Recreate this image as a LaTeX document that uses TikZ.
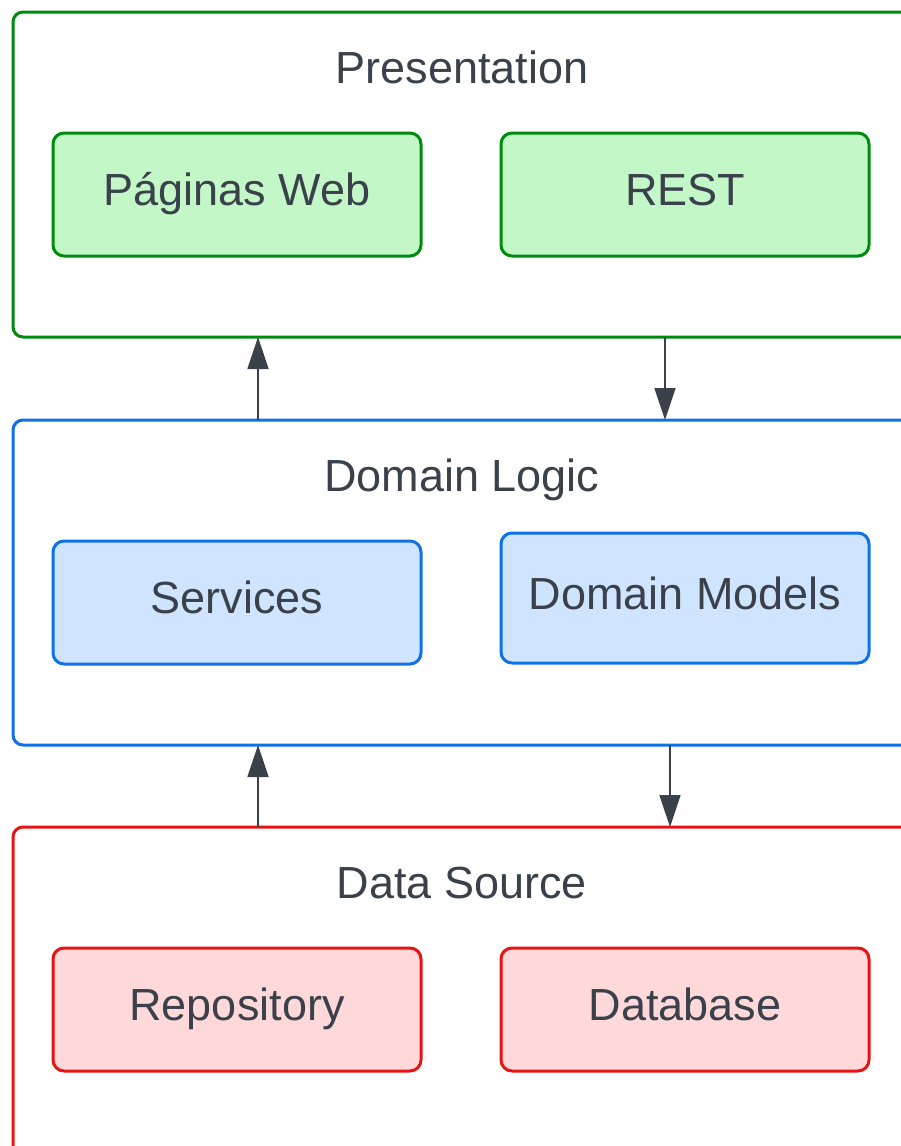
\documentclass[tikz,border=0pt]{standalone}
\usepackage{fontspec}
\setmainfont{Liberation Sans}
\usetikzlibrary{arrows.meta}
\definecolor{txt}{HTML}{3A414A}
\definecolor{gline}{HTML}{008A0E}
\definecolor{gfill}{HTML}{C3F7C8}
\definecolor{bline}{HTML}{1071E5}
\definecolor{bfill}{HTML}{CFE4FF}
\definecolor{rline}{HTML}{E81313}
\definecolor{rfill}{HTML}{FFD9D9}
\tikzset{
  layer/.style={draw, line width=3pt, rounded corners=10pt, fill=white, anchor=north west,
    minimum width=912pt, inner sep=0pt, outer sep=0pt},
  comp/.style={draw, line width=3pt, rounded corners=11pt, anchor=north west,
    minimum width=368pt, minimum height=123pt, inner sep=0pt, outer sep=0pt,
    text height=33pt, text depth=11pt,
    text=txt, font=\fontsize{45}{52}\selectfont},
  ttl/.style={text=txt, font=\fontsize{45}{52}\selectfont, inner sep=0pt, anchor=base},
  arr/.style={draw=txt, line width=1.5pt, -{Triangle[length=32pt,width=21pt]}}
}
\begin{document}
\begin{tikzpicture}[x=1pt,y=-1pt]
\useasboundingbox[fill=white] (0,0) rectangle (901,1146);
% layers
\node[layer, draw=gline, minimum height=325pt] (pres) at (13,12) {};
\node[layer, draw=bline, minimum height=325pt] (dom) at (13,420) {};
\node[layer, draw=rline, minimum height=345pt] (data) at (13,827) {};
% titles
\node[ttl] (tpres) at (462,83) {Presentation};
\node[ttl] (tdom) at (462,491) {Domain Logic};
\node[ttl] (tdata) at (462,898) {Data Source};
% components
\node[comp, draw=gline, fill=gfill] (web) at (53,133) {Páginas Web};
\node[comp, draw=gline, fill=gfill] (rest) at (501,133) {REST};
\node[comp, draw=bline, fill=bfill] (serv) at (53,541) {Services};
\node[comp, draw=bline, fill=bfill, minimum height=130pt] (models) at (501,533) {Domain Models};
\node[comp, draw=rline, fill=rfill] (repo) at (53,948) {Repository};
\node[comp, draw=rline, fill=rfill] (db) at (501,948) {Database};
% arrows
\draw[arr] ([xshift=245pt]dom.north west) -- ([xshift=245pt]pres.south west);
\draw[arr] ([xshift=652pt]pres.south west) -- ([xshift=652pt]dom.north west);
\draw[arr] ([xshift=245pt]data.north west) -- ([xshift=245pt]dom.south west);
\draw[arr] ([xshift=657pt]dom.south west) -- ([xshift=657pt]data.north west);
\end{tikzpicture}
\end{document}
